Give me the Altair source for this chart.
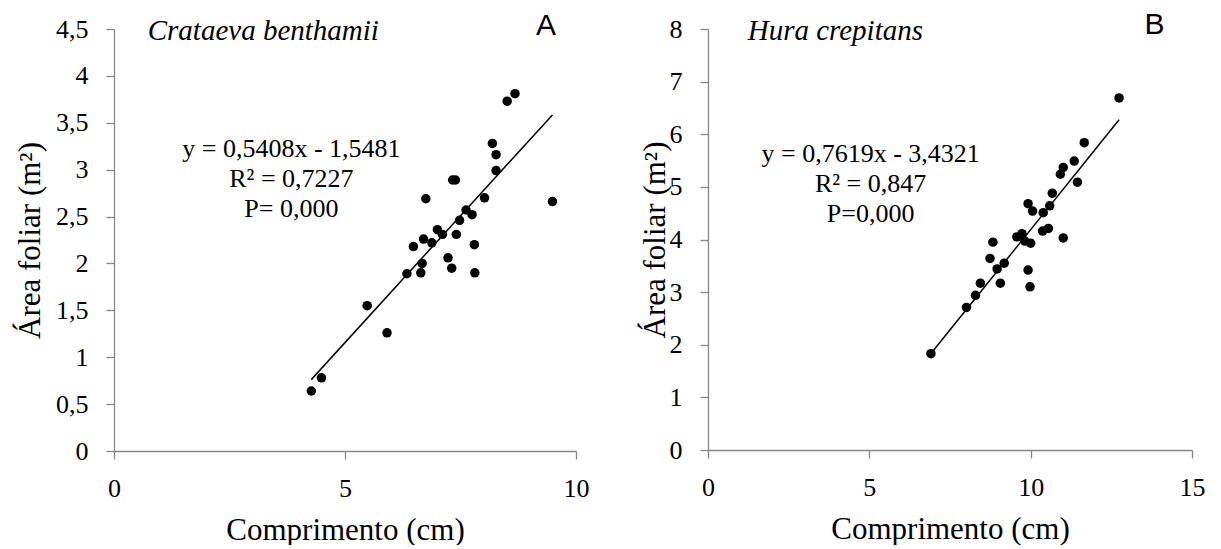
import altair as alt
import pandas as pd

# Crataeva benthamii: leaf length (cm) vs leaf area
crataeva_len = [4.27, 4.49, 5.48, 5.91, 6.34, 6.48, 6.64, 6.67, 6.70, 6.75,
                6.88, 7.00, 7.11, 7.23, 7.31, 7.33, 7.39, 7.41, 7.48, 7.62,
                7.75, 7.80, 7.81, 8.02, 8.19, 8.27, 8.27, 8.51, 8.68, 9.49]
crataeva_area = [0.64, 0.78, 1.55, 1.26, 1.89, 2.18, 1.90, 2.00, 2.26, 2.69,
                 2.22, 2.36, 2.31, 2.06, 1.95, 2.89, 2.89, 2.31, 2.46, 2.57,
                 2.52, 2.20, 1.90, 2.70, 3.28, 3.16, 2.99, 3.73, 3.81, 2.66]

# Hura crepitans: leaf length (cm) vs leaf area
hura_len = [6.91, 8.01, 8.29, 8.44, 8.74, 8.83, 8.96, 9.06, 9.18, 9.57,
            9.73, 9.82, 9.92, 9.92, 9.98, 10.00, 10.06, 10.37, 10.39, 10.55,
            10.59, 10.67, 10.92, 11.01, 11.01, 11.35, 11.45, 11.66, 12.74]
hura_area = [1.83, 2.71, 2.94, 3.17, 3.64, 3.95, 3.44, 3.17, 3.55, 4.05,
             4.11, 3.97, 4.68, 3.42, 3.10, 3.93, 4.54, 4.16, 4.51, 4.21,
             4.64, 4.88, 5.24, 5.37, 4.03, 5.49, 5.09, 5.84, 6.69]

# linear fits (slope, intercept)
crataeva_fit = (0.5408, -1.5481)
hura_fit = (0.7619, -3.4321)

crataeva_eq = ["y = 0,5408x - 1,5481", "R² = 0,7227", "P= 0,000"]
hura_eq = ["y = 0,7619x - 3,4321", "R² = 0,847", "P=0,000"]

SERIF = "Times New Roman, Liberation Serif, serif"
SANS = "Liberation Sans"
AXIS_GREY = "#878787"

# shared axis styling
AXIS_STYLE = dict(
    grid=False,
    domainColor=AXIS_GREY, domainWidth=1.3,
    tickColor=AXIS_GREY, tickWidth=1.3, tickSize=8,
    labelFont=SERIF, labelFontSize=26, labelColor="black",
    titleFont=SERIF, titleFontSize=31, titleFontWeight="normal",
    titleColor="black", labelFlush=False,
)


def panel(lengths, areas, fit, eq_lines, species, letter,
          x_max, x_ticks, y_max, y_ticks, width, height,
          species_pos, letter_pos, eq_pos, y_title_x):
    pts = pd.DataFrame({"comp": lengths, "area": areas})
    slope, intercept = fit
    ends = [min(lengths), max(lengths)]
    fit_df = pd.DataFrame({"comp": ends,
                           "area": [slope * v + intercept for v in ends]})

    x_enc = alt.X(
        "comp:Q",
        scale=alt.Scale(domain=[0, x_max], nice=False),
        axis=alt.Axis(values=x_ticks, title="Comprimento (cm)",
                      titleX=width / 2, titleY=88, titleAlign="center",
                      titleBaseline="alphabetic",
                      labelBaseline="alphabetic", labelPadding=37,
                      **AXIS_STYLE),
    )
    y_enc = alt.Y(
        "area:Q",
        scale=alt.Scale(domain=[0, y_max], nice=False),
        axis=alt.Axis(values=y_ticks, title="Área foliar (m²)",
                      titleX=y_title_x, titleY=height / 2,
                      titleAlign="center", titleBaseline="alphabetic",
                      labelPadding=18,
                      labelExpr="replace(toString(datum.value), '.', ',')",
                      **AXIS_STYLE),
    )

    dots = alt.Chart(pts).mark_circle(size=90, color="black", opacity=1).encode(
        x=x_enc, y=y_enc)
    line = alt.Chart(fit_df).mark_line(color="black", strokeWidth=1.5).encode(
        x="comp:Q", y="area:Q")

    ann = pd.DataFrame({"x": [0], "y": [0]})
    sp = alt.Chart(ann).mark_text(
        font=SERIF, fontStyle="italic", fontSize=29, align="left",
        baseline="alphabetic", color="black").encode(
        x=alt.datum(species_pos[0]), y=alt.datum(species_pos[1]),
        text=alt.value(species))
    lt = alt.Chart(ann).mark_text(
        font=SANS, fontSize=30, align="center", baseline="alphabetic",
        color="black").encode(
        x=alt.datum(letter_pos[0]), y=alt.datum(letter_pos[1]),
        text=alt.value(letter))
    eq = alt.Chart(ann).mark_text(
        font=SERIF, fontSize=26, align="center", baseline="middle",
        lineHeight=30, color="black").encode(
        x=alt.datum(eq_pos[0]), y=alt.datum(eq_pos[1]),
        text=alt.value(eq_lines))

    return alt.layer(line, dots, eq, sp, lt).properties(width=width, height=height)


left = panel(crataeva_len, crataeva_area, crataeva_fit, crataeva_eq,
             "Crataeva benthamii", "A",
             10, [0, 5, 10], 4.5, [i * 0.5 for i in range(10)], 462, 422,
             (0.73, 4.383), (9.35, 4.433), (3.84, 3.22), -75)
right = panel(hura_len, hura_area, hura_fit, hura_eq,
              "Hura crepitans", "B",
              15, [0, 5, 10, 15], 8, list(range(9)), 484, 421,
              (1.23, 7.79), (13.84, 7.91), (5.04, 5.625), -44)

chart = alt.hconcat(left, right, spacing=132, bounds="flush").configure(
    font=SERIF,
).configure_view(
    stroke=None
).configure_axis(
    **AXIS_STYLE
).properties(
    background="white",
    padding={"left": 14, "top": 9, "right": 0, "bottom": 0},
)

chart.save("out.html", embed_options={"renderer": "svg", "actions": False})
